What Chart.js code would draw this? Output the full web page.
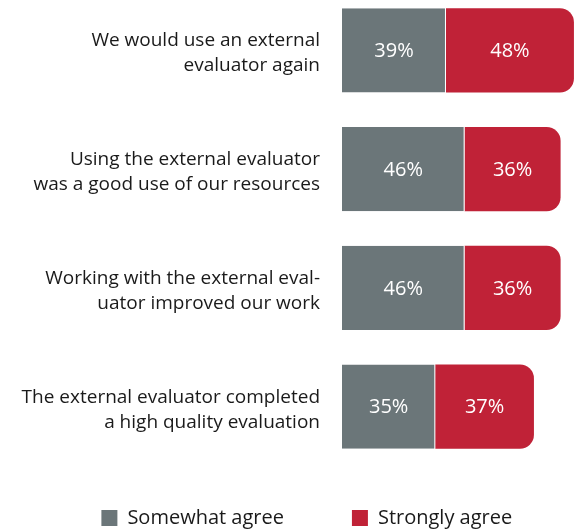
<!DOCTYPE html>
<html><head><meta charset="utf-8">
<script src="https://cdn.jsdelivr.net/npm/chart.js@4/dist/chart.umd.min.js"></script>
<style>
html,body{margin:0;padding:0;background:#fff;overflow:hidden;width:575px;height:529px;}
#wrap{position:absolute;left:0;top:-9px;width:575px;height:547px;}
</style></head><body>
<div id="wrap"><canvas id="c" width="575" height="547"></canvas></div>
<script>
const categories = [
  ['We would use an external', 'evaluator again'],
  ['Using the external evaluator', 'was a good use of our resources'],
  ['Working with the external eval-', 'uator improved our work'],
  ['The external evaluator completed', 'a high quality evaluation']
];
const somewhatAgree = [39, 46, 46, 35];
const stronglyAgree = [48, 36, 36, 37];
const seriesNames = ['Somewhat agree', 'Strongly agree'];

const FONT = '"Open Sans", "DejaVu Sans", sans-serif';
const GRAY = '#6b7679';
const RED = '#c02237';

const valueLabels = {
  id: 'valueLabels',
  afterDatasetsDraw(chart) {
    const ctx = chart.ctx;
    ctx.save();
    ctx.font = '20px ' + FONT;
    ctx.fillStyle = '#ffffff';
    ctx.textAlign = 'center';
    ctx.textBaseline = 'middle';
    chart.data.datasets.forEach((ds, i) => {
      chart.getDatasetMeta(i).data.forEach((bar, j) => {
        const p = bar.getProps(['x', 'y', 'base'], true);
        ctx.fillText(ds.data[j] + '%', (p.x + p.base) / 2, p.y + 1);
      });
    });
    ctx.restore();
  }
};

new Chart(document.getElementById('c'), {
  type: 'bar',
  data: {
    labels: categories,
    datasets: [
      { label: seriesNames[0], data: somewhatAgree, backgroundColor: GRAY,
        borderColor: '#ffffff', borderWidth: {top: 0, right: 1, bottom: 0, left: 0} },
      { label: seriesNames[1], data: stronglyAgree, backgroundColor: RED,
        borderWidth: 0, borderRadius: 14 }
    ]
  },
  options: {
    indexAxis: 'y',
    responsive: false,
    animation: false,
    devicePixelRatio: 1,
    layout: { padding: 0 },
    datasets: { bar: { barPercentage: 0.71, categoryPercentage: 1 } },
    scales: {
      x: { stacked: true, display: false, min: 0, max: 87.4 },
      y: {
        stacked: true,
        grid: { display: false, drawTicks: false },
        border: { display: false },
        ticks: {
          padding: 22,
          labelOffset: 3,
          color: '#1a1a1a',
          font: { family: FONT, size: 19, lineHeight: '25px' }
        },
        afterFit(s) { s.width = 342; s.paddingTop = 0; s.paddingBottom = 0; }
      }
    },
    plugins: {
      tooltip: { enabled: false },
      legend: {
        position: 'bottom',
        align: 'end',
        labels: {
          boxWidth: 16,
          boxHeight: 16,
          padding: 42,
          color: '#1a1a1a',
          font: { family: FONT, size: 20 },
          generateLabels(chart) {
            const items = Chart.defaults.plugins.legend.labels.generateLabels(chart);
            items.forEach(it => { it.lineWidth = 0; });
            items[0].text += '     ';
            items[1].text += '    ';
            return items;
          }
        }
      }
    }
  },
  plugins: [valueLabels]
});
</script>
</body></html>
